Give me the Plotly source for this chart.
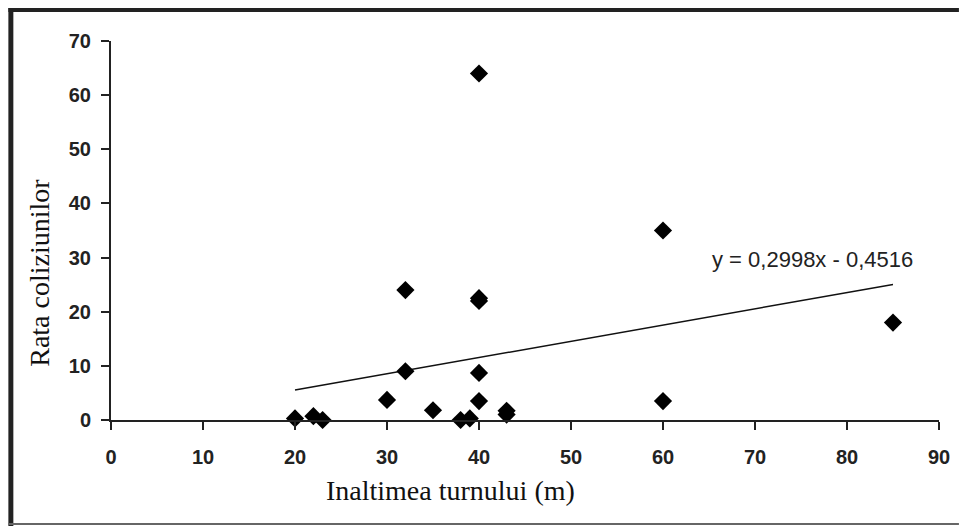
import plotly.graph_objects as go

# Data
inaltime = [20, 22, 23, 30, 32, 32, 35, 38, 39, 40, 40, 40, 40, 40, 43, 43, 60, 60, 85]
rata = [0.3, 0.7, 0.0, 3.7, 24.0, 9.0, 1.8, 0.0, 0.3, 64.0, 22.5, 22.0, 8.7, 3.5, 1.7, 1.0, 35.0, 3.5, 18.0]
slope = 0.2998
intercept = -0.4516
eq_label = "y = 0,2998x - 0,4516"
x_title = "Inaltimea turnului (m)"
y_title = "Rata coliziunilor"
x_ticks = [0, 10, 20, 30, 40, 50, 60, 70, 80, 90]
y_ticks = [0, 10, 20, 30, 40, 50, 60, 70]

x_fit = [min(inaltime), max(inaltime)]
y_fit = [slope * v + intercept for v in x_fit]

fig = go.Figure()
fig.add_trace(go.Scatter(
    x=x_fit, y=y_fit, mode="lines",
    line=dict(color="#111111", width=1.5),
    hoverinfo="skip", showlegend=False, cliponaxis=False,
))
fig.add_trace(go.Scatter(
    x=inaltime, y=rata, mode="markers",
    marker=dict(symbol="diamond", size=14, color="black", line=dict(width=0)),
    showlegend=False, cliponaxis=False,
))

# Figure geometry (page body margin removed via post_script)
W, H = 962, 526
L, R, T, B = 111, 20, 41, 106
pw, ph = W - L - R, H - T - B

def px_x(p):
    return (p - L) / pw

def px_y(p):
    return (H - B - p) / ph

fig.add_annotation(
    x=76.2, y=29.7, xref="x", yref="y", text=eq_label, showarrow=False,
    font=dict(family="Liberation Sans, Arial", size=22, color="#222222"),
    xanchor="center", yanchor="middle",
)

title_font = dict(family="Liberation Serif, Times New Roman", size=28, color="#111111")
fig.add_annotation(
    x=px_x(452), y=px_y(490), xref="paper", yref="paper", text=x_title,
    showarrow=False, font=title_font, xanchor="center", yanchor="middle",
)
fig.add_annotation(
    x=px_x(38.5), y=px_y(273), xref="paper", yref="paper", text=y_title,
    showarrow=False, font=title_font, xanchor="center", yanchor="middle", textangle=-90,
)

axis_font = dict(family="Liberation Sans, Arial", size=20, color="#222222")

fig.update_xaxes(
    range=[0, 90], tickvals=x_ticks, ticktext=["<b>%d</b>" % v for v in x_ticks],
    showgrid=False, zeroline=False, showline=True, linecolor="#222222", linewidth=2,
    ticks="outside", ticklen=8, tickwidth=2, tickcolor="#222222",
    tickfont=axis_font, ticklabelstandoff=10,
)
fig.update_yaxes(
    range=[0, 70], tickvals=y_ticks, ticktext=["<b>%d</b>" % v for v in y_ticks],
    showgrid=False, zeroline=False, showline=True, linecolor="#222222", linewidth=2,
    ticks="outside", ticklen=8, tickwidth=2, tickcolor="#222222",
    tickfont=axis_font, ticklabelstandoff=6,
)

shapes = [
    # left thick frame
    dict(type="rect", xref="paper", yref="paper",
         x0=px_x(8), x1=px_x(13), y0=px_y(H), y1=px_y(8),
         fillcolor="#222222", line=dict(width=0), layer="above"),
    # top thick frame
    dict(type="rect", xref="paper", yref="paper",
         x0=px_x(8), x1=px_x(W), y0=px_y(12), y1=px_y(8),
         fillcolor="#222222", line=dict(width=0), layer="above"),
    # bottom thin frame
    dict(type="rect", xref="paper", yref="paper",
         x0=px_x(8), x1=px_x(W), y0=px_y(525), y1=px_y(523),
         fillcolor="#666666", line=dict(width=0), layer="above"),
]

fig.update_layout(
    width=W, height=H,
    margin=dict(l=L, r=R, t=T, b=B),
    paper_bgcolor="white", plot_bgcolor="white",
    shapes=shapes,
    showlegend=False,
)

fig.write_html(
    "out.html",
    config={"displayModeBar": False},
    post_script="document.body.style.margin='0';document.body.style.overflow='hidden';",
)
